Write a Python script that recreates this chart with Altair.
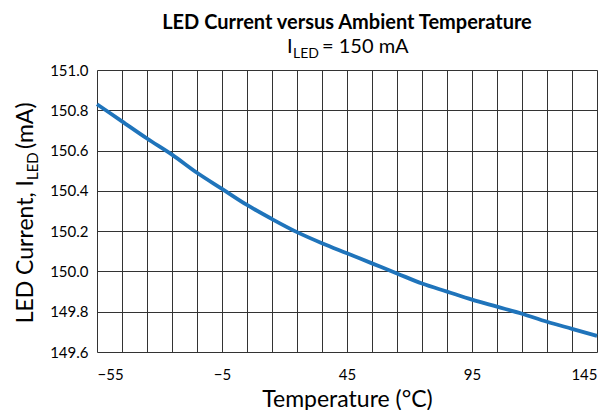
import altair as alt
import pandas as pd

temps = [-55, -45, -35, -25, -15, -5, 5, 15, 25, 35, 45, 55, 65, 75, 85, 95, 105, 115, 125, 135, 145]
current = [150.83, 150.745, 150.66, 150.58, 150.49, 150.41, 150.33, 150.26, 150.195, 150.14,
           150.09, 150.04, 149.99, 149.94, 149.90, 149.86, 149.825, 149.79, 149.75, 149.715, 149.68]
x_grid = list(range(-55, 146, 10))
y_ticks = [149.6, 149.8, 150.0, 150.2, 150.4, 150.6, 150.8, 151.0]

title_text = "LED Current versus Ambient Temperature"
sub_main = "I"
sub_sub = "LED"
sub_rest = "\u00a0= 150 mA"
ytitle_a = "LED Current, I"
ytitle_sub = "LED"
ytitle_b = "\u00a0(mA)"
xtitle = "Temperature (°C)"

FONT = "Lato"
df = pd.DataFrame({"temp": temps, "current": current})
one = pd.DataFrame({"k": [0]})

line = alt.Chart(df).mark_line(color="#1f74bb", strokeWidth=3.8, interpolate="monotone").encode(
    x=alt.X("temp:Q",
            scale=alt.Scale(domain=[-55, 145], nice=False, zero=False),
            axis=alt.Axis(values=x_grid, labelExpr="(datum.value + 55) % 50 == 0 ? datum.label : ''",
                          ticks=False, grid=True, gridColor="#333333", gridOpacity=1, gridWidth=1,
                          domain=False, labelFontSize=15, labelFont=FONT, labelColor="#000000",
                          labelPadding=15, title=xtitle, titleFontSize=23, titleFont=FONT,
                          titleFontWeight="normal", titleColor="#000000", titlePadding=6)),
    y=alt.Y("current:Q",
            scale=alt.Scale(domain=[149.6, 151.0], nice=False, zero=False),
            axis=alt.Axis(values=y_ticks, format=".1f", ticks=False, grid=True, gridColor="#333333",
                          gridOpacity=1, gridWidth=1, domain=False, labelFontSize=15, labelFont=FONT,
                          labelColor="#000000", labelPadding=9, title=None)),
)

def txt(text, x, y, size, align="left", weight="normal", angle=0):
    kw = dict(text=text, align=align, baseline="alphabetic", fontSize=size, font=FONT,
              fontWeight=weight, color="#000000")
    if angle:
        kw["angle"] = angle
    return alt.Chart(one).mark_text(**kw).encode(x=alt.value(x), y=alt.value(y))

sx = 190
y1 = 110
layers = [
    line,
    txt(title_text, 250, -41, 20, align="center", weight="bold"),
    txt(sub_main, sx, -17, 20),
    txt(sub_sub, sx + 6, -12, 14),
    txt(sub_rest, sx + 6 + 29, -17, 20),
    txt(ytitle_a, -64, y1, 23, align="right", angle=270),
    txt(ytitle_sub, -59, y1, 15, align="left", angle=270),
    txt(ytitle_b, -64, y1 - 31, 23, align="left", angle=270),
]

chart = alt.layer(*layers).properties(
    width=500, height=282,
    autosize=alt.AutoSizeParams(type="none"),
    padding={"left": 89, "top": 62, "right": 6, "bottom": 58},
).configure_view(stroke="#404040", strokeWidth=1.5).configure(background="white")

chart.save("out.html", embed_options={"renderer": "svg", "actions": False})
